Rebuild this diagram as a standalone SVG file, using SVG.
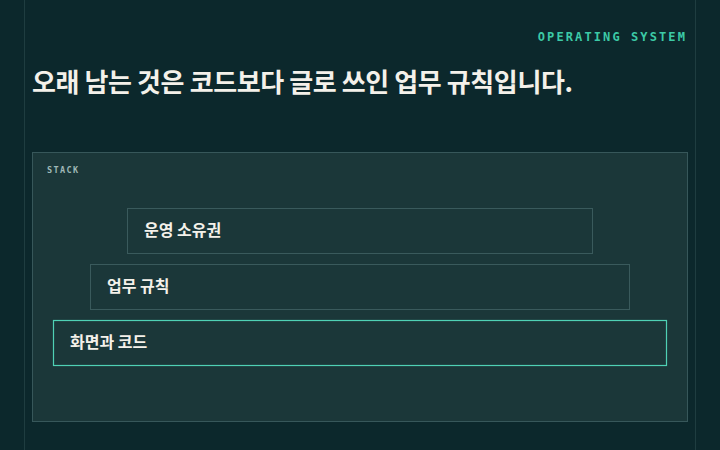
<svg xmlns="http://www.w3.org/2000/svg" width="720" height="450" viewBox="0 0 720 450">
<style>
.rail{stroke:#1f3d40;stroke-width:1}
.title{font-family:"Noto Sans CJK KR","Noto Sans",sans-serif;font-weight:700;font-size:26px;fill:#f4f1ea;letter-spacing:-0.4px}
.eyebrow{font-family:"DejaVu Sans Mono","Liberation Mono",monospace;font-weight:700;font-size:12px;fill:#3ccaa6;letter-spacing:2.1px}
.cap{font-family:"DejaVu Sans Mono","Liberation Mono",monospace;font-weight:700;font-size:8.5px;fill:#9fb8b6;letter-spacing:1.4px}
.panel{fill:#1b3739;stroke:#37575a;stroke-width:1}
.box{fill:#1b3739;stroke:#3a5a5c;stroke-width:1}
.box.hi{stroke:#4fd1b5;stroke-width:1.2}
.lbl{font-family:"Noto Sans CJK KR","Noto Sans",sans-serif;font-weight:700;font-size:16px;fill:#f4f1ea}
</style>
<rect width="720" height="450" fill="#0c282c"/>
<line class="rail" x1="24.5" y1="0" x2="24.5" y2="450"/>
<line class="rail" x1="695.5" y1="0" x2="695.5" y2="450"/>
<text class="eyebrow" x="687" y="41" text-anchor="end">OPERATING SYSTEM</text>
<text class="title" x="32" y="92">오래 남는 것은 코드보다 글로 쓰인 업무 규칙입니다.</text>
<g id="stack">
<rect class="panel" x="32.5" y="152.5" width="655" height="269"/>
<text class="cap" x="47" y="173">STACK</text>
</g>
<g id="connectors"></g>
<g id="node-ownership">
<rect class="box" x="127.5" y="208.5" width="465" height="45"/>
<text class="lbl" x="144" y="236">운영 소유권</text>
</g>
<g id="node-rules">
<rect class="box" x="90.5" y="264.5" width="539" height="45"/>
<text class="lbl" x="107" y="292">업무 규칙</text>
</g>
<g id="node-code">
<rect class="box hi" x="53.5" y="320.5" width="613" height="45"/>
<text class="lbl" x="70" y="348">화면과 코드</text>
</g>
</svg>
